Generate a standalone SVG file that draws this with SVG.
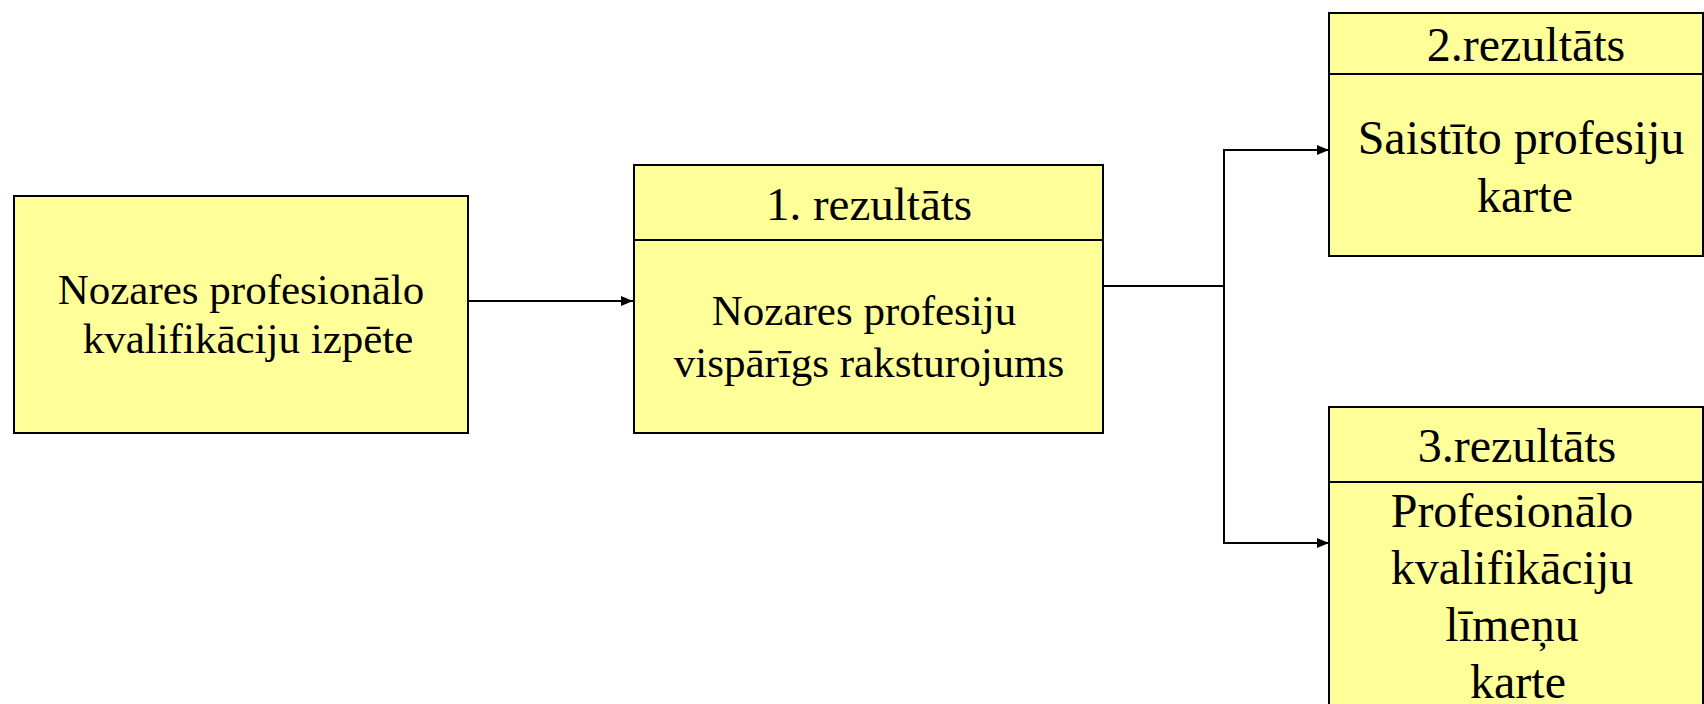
<svg xmlns="http://www.w3.org/2000/svg" width="1704" height="704" viewBox="0 0 1704 704">
<style>
.box{fill:#FFFF99;stroke:#000;stroke-width:2}
.div{stroke:#000;stroke-width:2}
text{font-family:'Liberation Serif',Tinos,'DejaVu Serif',serif;fill:#000;text-anchor:middle}
.b{font-size:43px}
.h{font-size:47px}
.r{font-size:48px}
.c{fill:none;stroke:#000;stroke-width:2}
</style>
<defs>
<marker id="ah" viewBox="0 0 12 10" refX="12" refY="5" markerWidth="12" markerHeight="10" markerUnits="userSpaceOnUse" orient="auto">
<path d="M0,0 L12,5 L0,10 Z" fill="#000"/>
</marker>
</defs>
<rect width="1704" height="704" fill="#fff"/>
<g id="connectors">
<line class="c" x1="468" y1="301" x2="633" y2="301" marker-end="url(#ah)"/>
<polyline class="c" points="1103,286 1224,286"/>
<line class="c" x1="1224" y1="149" x2="1224" y2="544"/>
<line class="c" x1="1223" y1="150" x2="1329" y2="150" marker-end="url(#ah)"/>
<line class="c" x1="1223" y1="543" x2="1329" y2="543" marker-end="url(#ah)"/>
</g>
<g id="node-izpete">
<rect class="box" x="14" y="196" width="454" height="237"/>
<text class="b" x="241" y="304">Nozares profesionālo</text>
<text class="b" x="248" y="353">kvalifikāciju izpēte</text>
</g>
<g id="node-rez1">
<rect class="box" x="634" y="165" width="469" height="268"/>
<line class="div" x1="634" y1="240" x2="1103" y2="240"/>
<text class="h" x="869" y="220">1. rezultāts</text>
<text class="b" x="864" y="325">Nozares profesiju</text>
<text class="b" x="869" y="377">vispārīgs raksturojums</text>
</g>
<g id="node-rez2">
<rect class="box" x="1329" y="13" width="374" height="243"/>
<line class="div" x1="1329" y1="74" x2="1703" y2="74"/>
<text class="r" x="1526" y="61">2.rezultāts</text>
<text class="r" x="1521" y="154">Saistīto profesiju</text>
<text class="r" x="1525" y="212">karte</text>
</g>
<g id="node-rez3">
<rect class="box" x="1329" y="407" width="374" height="320"/>
<line class="div" x1="1329" y1="482" x2="1703" y2="482"/>
<text class="r" x="1517" y="462">3.rezultāts</text>
<text class="r" x="1512" y="527">Profesionālo</text>
<text class="r" x="1512" y="584">kvalifikāciju</text>
<text class="r" x="1512" y="641">līmeņu</text>
<text class="r" x="1518" y="698">karte</text>
</g>
</svg>
